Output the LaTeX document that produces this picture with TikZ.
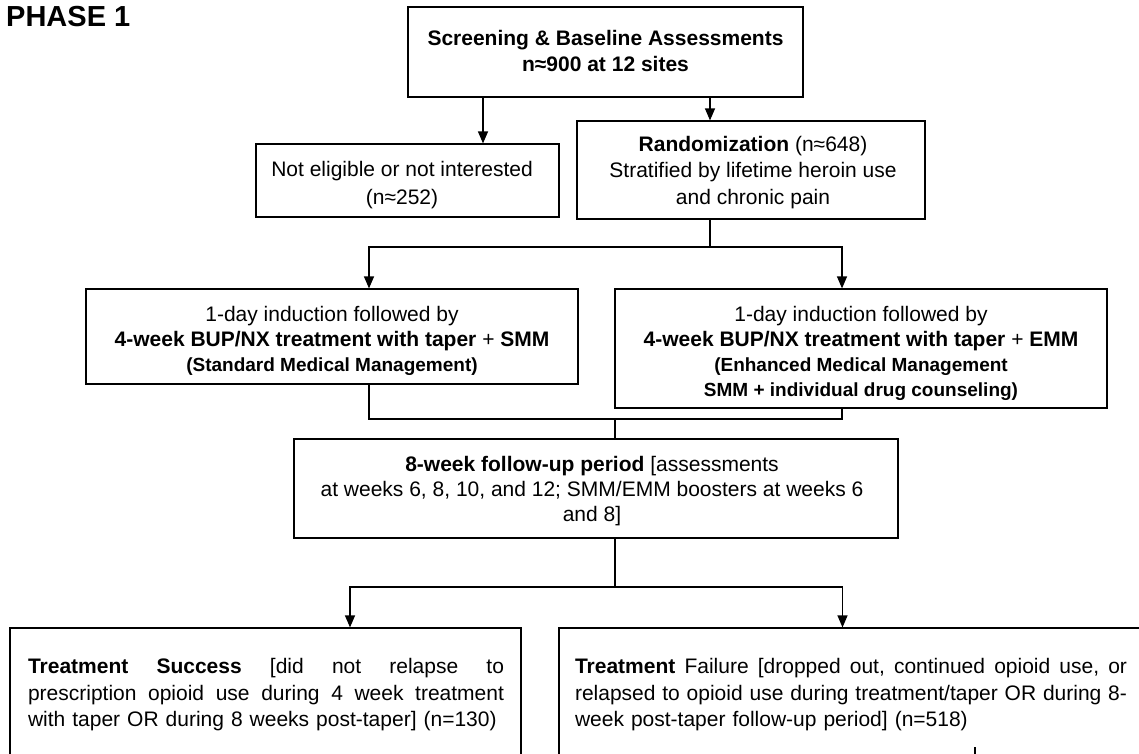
\documentclass[tikz,border=0pt]{standalone}
\usepackage{fontspec}
\setmainfont{Liberation Sans}
\usetikzlibrary{arrows.meta}
\begin{document}
\begin{tikzpicture}[x=1pt,y=-1pt,
  box/.style={draw, line width=1.2pt, inner sep=0pt},
  lbl/.style={inner sep=0pt, align=center},
  conn/.style={line width=1.2pt},
  arr/.style={line width=1.2pt, -{Triangle[length=12pt,width=10pt]}},
  txt/.style={font=\fontsize{21}{26}\selectfont},
  subt/.style={font=\bfseries\fontsize{19}{25}\selectfont}
]
\useasboundingbox (0,0) rectangle (1139,753);
\clip (0,0) rectangle (1139,753);

\node[anchor=north west, inner sep=0pt, font=\bfseries\fontsize{29}{30}\selectfont] (phase) at (6,6) {PHASE 1};

% boxes
\node[box, minimum width=395pt, minimum height=90pt] (scr) at (605.5,52) {};
\node[lbl, font=\bfseries\fontsize{21}{26}\selectfont] (scrT) at (605.5,51) {Screening \& Baseline Assessments\\n≈900 at 12 sites};

\node[box, minimum width=303pt, minimum height=73pt] (ne) at (407.5,180.5) {};
\node[lbl, font=\fontsize{21}{28}\selectfont] (neT) at (402,185) {Not eligible or not interested\\(n≈252)};

\node[box, minimum width=348pt, minimum height=98pt] (rand) at (751,170) {};
\node[lbl, font=\fontsize{21}{26.5}\selectfont] (randT) at (753,172.5) {\textbf{Randomization} (n≈648)\\Stratified by lifetime heroin use\\and chronic pain};

\node[box, minimum width=492pt, minimum height=95pt] (smm) at (332,336.5) {};
\node[lbl, font=\fontsize{21}{25}\selectfont] (smmT) at (332,341) {1-day induction followed by\\\textbf{4-week BUP/NX treatment with taper} + \textbf{SMM}\\{\bfseries\fontsize{19}{25}\selectfont (Standard Medical Management)}};

\node[box, minimum width=492pt, minimum height=119pt] (emm) at (861,348.5) {};
\node[lbl, font=\fontsize{21}{25}\selectfont] (emmT) at (861,353.5) {1-day induction followed by\\\textbf{4-week BUP/NX treatment with taper} + \textbf{EMM}\\{\bfseries\fontsize{19}{25}\selectfont (Enhanced Medical Management}\\{\bfseries\fontsize{19}{25}\selectfont SMM + individual drug counseling)}};

\node[box, minimum width=604pt, minimum height=99pt] (fu) at (596,488.5) {};
\node[lbl, font=\fontsize{21}{25}\selectfont] (fuT) at (592,491) {\textbf{8-week follow-up period} [assessments\\at weeks 6, 8, 10, and 12; SMM/EMM boosters at weeks 6\\and 8]};

\node[box, minimum width=511pt, minimum height=200pt] (succ) at (265.5,728) {};
\node[inner sep=0pt, font=\fontsize{21}{26.5}\selectfont, text width=476pt, align=left] (succT) at (266,695) {%
\makebox[476pt]{\textbf{Treatment}\hfill\textbf{Success}\hfill[did\hfill not\hfill relapse\hfill to}\\
\makebox[476pt]{prescription\hfill opioid\hfill use\hfill during\hfill 4\hfill week\hfill treatment}\\
with taper OR during 8 weeks post-taper] (n=130)};

\node[box, minimum width=620pt, minimum height=200pt] (fail) at (869,728) {};
\node[inner sep=0pt, font=\fontsize{21}{26.5}\selectfont, text width=552pt, align=left] (failT) at (851,695) {%
\makebox[552pt]{\textbf{Treatment}\hfill Failure\hfill [dropped\hfill out,\hfill continued\hfill opioid\hfill use,\hfill or}\\
\makebox[552pt]{relapsed\hfill to\hfill opioid\hfill use\hfill during\hfill treatment/taper\hfill OR\hfill during\hfill 8-}\\
week post-taper follow-up period] (n=518)};

% connectors
\coordinate (c1) at (483,0);
\coordinate (c2) at (710,0);
\draw[arr] (scr.south -| c1) -- (ne.north -| c1);
\draw[arr] (scr.south -| c2) -- (rand.north -| c2);

\coordinate (j1) at (710,247);
\coordinate (cL) at (369,0);
\coordinate (cR) at (842,0);
\draw[conn] (rand.south -| j1) -- (j1);
\draw[arr] (j1) -| (smm.north -| cL);
\draw[arr] (j1) -| (emm.north -| cR);

\coordinate (j2) at (615,419);
\draw[conn] (smm.south -| cL) |- (j2);
\draw[conn] (emm.south -| cR) |- (j2);
\draw[conn] (j2) -- (fu.north -| j2);

\coordinate (j3) at (615,587);
\coordinate (cA) at (350,0);
\coordinate (cB) at (842.5,0);
\draw[conn] (fu.south -| j3) -- (j3);
\draw[arr] (j3) -| (succ.north -| cA);
\draw[arr] (j3) -| (fail.north -| cB);

\coordinate (tk) at (975,747);
\coordinate (tkb) at (975,760);
\draw[conn] (tk) -- (tkb);
\end{tikzpicture}
\end{document}
